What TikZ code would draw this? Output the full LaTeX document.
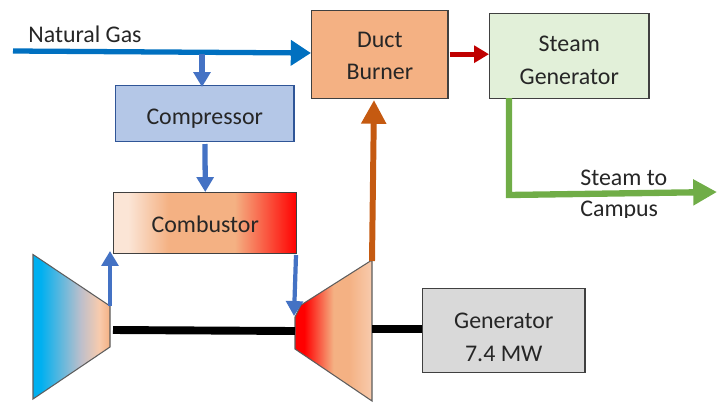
\documentclass[tikz,border=0pt]{standalone}
\usepackage{fontspec}
\setmainfont{Carlito}
\usetikzlibrary{arrows.meta}
\definecolor{gasblue}{HTML}{0070C0}
\definecolor{airblue}{HTML}{4472C4}
\definecolor{compfill}{HTML}{B4C7E7}
\definecolor{compline}{HTML}{2F5597}
\definecolor{peach}{HTML}{F4B183}
\definecolor{lightpeach}{HTML}{FBE5D6}
\definecolor{midpeach}{HTML}{F8CBAD}
\definecolor{steamfill}{HTML}{E2F0D9}
\definecolor{genfill}{HTML}{D9D9D9}
\definecolor{exhaust}{HTML}{C55A11}
\definecolor{hotred}{HTML}{C00000}
\definecolor{steamgreen}{HTML}{70AD47}
\definecolor{inkline}{HTML}{404040}
\definecolor{inlet}{HTML}{00B0F0}
\definecolor{midgrey}{HTML}{BDBFCB}
\pgfdeclarehorizontalshading{combustgrad}{100bp}{color(0bp)=(lightpeach); color(29bp)=(lightpeach); color(40bp)=(peach); color(58bp)=(peach); color(75bp)=(red); color(100bp)=(red)}
\pgfdeclarehorizontalshading{compgrad}{100bp}{color(0bp)=(inlet); color(30bp)=(inlet); color(56bp)=(midgrey); color(68bp)=(midpeach); color(75bp)=(peach); color(100bp)=(peach)}
\pgfdeclarehorizontalshading{turbgrad}{100bp}{color(0bp)=(red); color(31bp)=(red); color(50bp)=(peach); color(60bp)=(peach); color(75bp)=(midpeach); color(100bp)=(midpeach)}
\tikzset{
  unitbox/.style={draw=inkline,line width=.7pt,anchor=north west,align=center,text=black!85,inner sep=0pt,font=\fontsize{13.6}{18.4}\selectfont},
  label/.style={text=black!85,inner sep=0pt,font=\fontsize{13.6}{18.4}\selectfont},
  casing/.style={draw=inkline!85,line width=.6pt},
  gasflow/.style={draw=gasblue,line width=3pt,-{Triangle[length=11.5pt,width=14pt]}},
  airflow/.style={draw=airblue,line width=3pt,-{Triangle[length=8.5pt,width=9.5pt]}},
  shaft/.style={draw=black,line width=4.5pt}
}
\begin{document}
\begin{tikzpicture}[x=.02cm,y=-.02cm]
	\useasboundingbox (0,0) rectangle (720,403);
	% boxes
	\node[unitbox,draw=compline,fill=compfill,text height=14.5pt,minimum width=179*.5669pt,minimum height=56*.5669pt] (comp) at (115,85) {Compressor};
	\node[unitbox,shading=combustgrad,text height=10.5pt,minimum width=184*.5669pt,minimum height=61*.5669pt] (comb) at (113,192) {Combustor};
	\node[unitbox,fill=peach,text height=29.4pt,minimum width=137*.5669pt,minimum height=88.5*.5669pt] (duct) at (311,9.5) {Duct\\Burner};
	\node[unitbox,fill=steamfill,text height=32.3pt,minimum width=160*.5669pt,minimum height=85*.5669pt] (sgen) at (489,13) {Steam\\Generator};
	\node[unitbox,fill=genfill,text height=35pt,minimum width=163*.5669pt,minimum height=84*.5669pt] (gen) at (422,288) {Generator\\7.4 MW};
	% compressor and turbine
	\draw[casing,shading=compgrad] (33,254.5) -- (110,306) -- (110,347) -- (33,399) -- cycle;
	\draw[casing,shading=turbgrad] (295,317) -- (301,305) -- (372,260) -- (372,401) -- (295,349) -- cycle;
	\coordinate (compout) at (110,306);
	\coordinate (combin) at (110,251);
	\coordinate (combout) at (296,255);
	\coordinate (turbin) at (294,316);
	\coordinate (turbout) at (372,261);
	\coordinate (ductin) at (374,100);
	\coordinate (gasstart) at (13,51);
	\coordinate (gasend) at (311,53);
	\coordinate (gastap) at (202,54);
	\coordinate (compin) at (202,87);
	\coordinate (compbot) at (205,144);
	\coordinate (sgenbot) at (509,98);
	\coordinate (sgenturn) at (509,195);
	\coordinate (campus) at (717,192);
	\coordinate (shafta) at (113,330);
	\coordinate (shaftb) at (295,331);
	\coordinate (shaftc) at (372,329);
	\coordinate (shaftd) at (422,329);
	% shaft
	\draw[shaft] (shafta) -- (shaftb);
	\draw[shaft] (shaftc) -- (shaftd);
	% flows
	\draw[gasflow] (gasstart) -- (gasend);
	\draw[airflow] (gastap) -- (compin);
	\draw[airflow] (compbot) -- (comb.north);
	\draw[airflow,line width=2.4pt] (compout) -- (combin);
	\draw[airflow,line width=2.4pt] (combout) -- (turbin);
	\draw[draw=exhaust,line width=3.4pt,-{Triangle[length=13.5pt,width=13.5pt]}] (turbout) -- (ductin);
	\draw[draw=hotred,line width=3pt,-{Triangle[length=8.5pt,width=9.5pt]}] (duct.east) ++(1,0) -- (sgen.west |- duct.east);
	\draw[draw=steamgreen,line width=3.6pt,-{Triangle[length=13.5pt,width=14pt]}] (sgenbot) -- (sgenturn) -- (campus);
	% text
	\node[label,anchor=base west] (gaslabel) at (28,42) {Natural Gas};
	\node[label,anchor=base west] (steamlabel) at (580,185) {Steam to};
	\begin{scope}
		\clip (570,197) rectangle (680,217);
		\node[label,anchor=base west] (campuslabel) at (580,216) {Campus};
	\end{scope}
\end{tikzpicture}
\end{document}
